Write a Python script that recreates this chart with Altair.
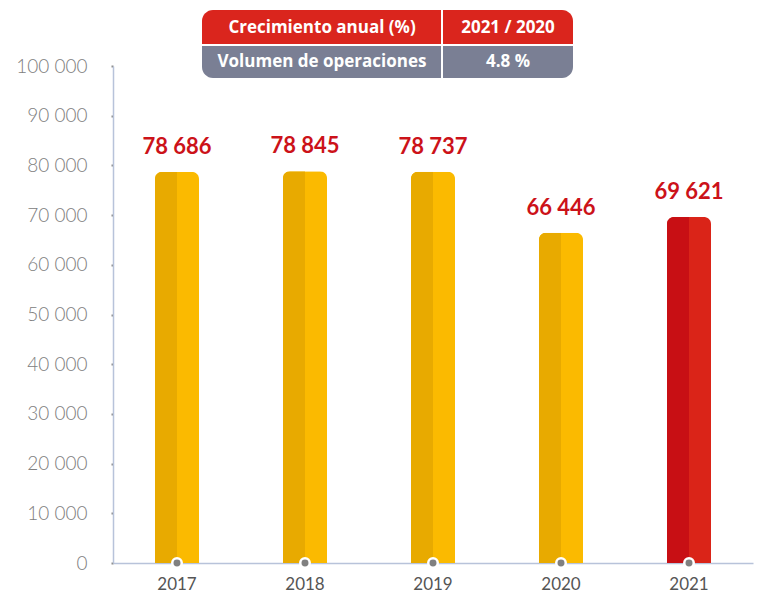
import altair as alt
import pandas as pd

years = ["2017", "2018", "2019", "2020", "2021"]
values = [78686, 78845, 78737, 66446, 69621]
value_labels = ["78 686", "78 845", "78 737", "66 446", "69 621"]
y_ticks = [0, 10000, 20000, 30000, 40000, 50000, 60000, 70000, 80000, 90000, 100000]

table_header = ["Crecimiento anual (%)", "2021 / 2020"]
table_row = ["Volumen de operaciones", "4.8 %"]

df = pd.DataFrame({"year": years, "value": values, "label": value_labels})

FONT = "Lato"
TFONT = "Open Sans"
is_cur = alt.datum.year == "2021"

x = alt.X("year:N", sort=years, title=None,
          scale=alt.Scale(paddingInner=0, paddingOuter=0),
          axis=alt.Axis(labelAngle=0, labelFontSize=17, labelColor="#555555",
                        labelFont=FONT, labelPadding=13, labelBaseline="top", ticks=False,
                        domainColor="#B8C3DA", domainWidth=1.5))
y = alt.Y("value:Q", title=None,
          scale=alt.Scale(domain=[0, 100000], nice=False),
          axis=alt.Axis(values=y_ticks, grid=False, labelFontSize=19, labelFontWeight=300,
                        labelColor="#808080", labelFont=FONT, labelPadding=24,
                        labelExpr="replace(format(datum.value, ','), ',', ' ')",
                        tickSize=2, tickWidth=2, tickColor="#8A8A8A",
                        domainColor="#B8C3DA", domainWidth=1.5))

base = alt.Chart(df)

bar_full = base.mark_bar(size=44, cornerRadiusTopLeft=7, cornerRadiusTopRight=7).encode(
    x=x, y=y,
    color=alt.condition(is_cur, alt.value("#DA2418"), alt.value("#FBBA00")),
)
bar_half = base.mark_bar(size=22, xOffset=-11, cornerRadiusTopLeft=7).encode(
    x=x, y=y,
    color=alt.condition(is_cur, alt.value("#C80F14"), alt.value("#E8AA00")),
)
labels = base.mark_text(baseline="bottom", dy=-13, fontSize=22, fontWeight="bold",
                        font=FONT, color="#CC1219").encode(x=x, y=y, text="label:N")
dots = base.mark_point(filled=True, size=90, color="#808080", stroke="white",
                       strokeWidth=2.5, opacity=1).encode(x=x, y=alt.datum(0))

# summary table above the plot
tdf = pd.DataFrame({"d": [0]})
tb = alt.Chart(tdf)
c_left = tb.mark_rect(color="#DA251D", cornerRadiusTopLeft=11).encode(
    x=alt.value(89), x2=alt.value(328), y=alt.value(-56), y2=alt.value(-22))
c_right = tb.mark_rect(color="#DA251D", cornerRadiusTopRight=11).encode(
    x=alt.value(330), x2=alt.value(460), y=alt.value(-56), y2=alt.value(-22))
g_left = tb.mark_rect(color="#7A7F94", cornerRadiusBottomLeft=11).encode(
    x=alt.value(89), x2=alt.value(328), y=alt.value(-20), y2=alt.value(12))
g_right = tb.mark_rect(color="#7A7F94", cornerRadiusBottomRight=11).encode(
    x=alt.value(330), x2=alt.value(460), y=alt.value(-20), y2=alt.value(12))

def ttext(t, xp, yp):
    return tb.mark_text(text=t, color="white", fontSize=17, fontWeight="bold",
                        font=TFONT, align="center", baseline="middle").encode(
        x=alt.value(xp), y=alt.value(yp))

texts = [ttext(table_header[0], 209, -38), ttext(table_header[1], 395, -38),
         ttext(table_row[0], 209, -4), ttext(table_row[1], 395, -4)]

chart = alt.layer(bar_full, bar_half, labels, dots, c_left, c_right, g_left, g_right, *texts).properties(
    width=640, height=497,
    padding={"left": 105, "top": 58, "right": 5, "bottom": 33},
    autosize=alt.AutoSizeParams(type="none"),
).configure_view(stroke=None)

chart.save("out.html", embed_options={"renderer": "svg", "actions": False})
